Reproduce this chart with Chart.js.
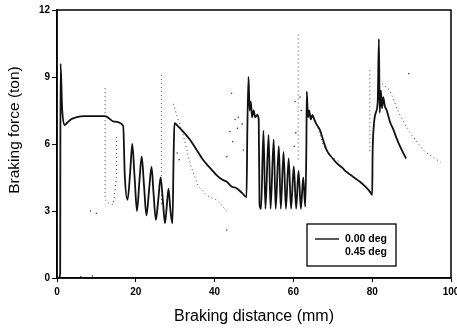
<!DOCTYPE html>
<html>
<head>
<meta charset="utf-8">
<script src="https://cdn.jsdelivr.net/npm/chart.js@4/dist/chart.umd.min.js"></script>
<style>
  body { margin: 0; background: #fff; }
  canvas { display: block; }
</style>
</head>
<body>
<canvas id="myChart" width="457" height="330"></canvas>
<script>
// Braking force vs braking distance
// 0.00 deg run (solid line), [distance mm, force ton]
const deg000 = [
  [0.5, 0], [0.8, 0.2], [0.9, 9.6], [1.3, 7.6], [1.9, 6.85], [2.6, 6.95], [3.5, 7.1],
  [5, 7.2], [7, 7.25], [10, 7.25], [12.2, 7.25], [14.5, 7.0], [16.8, 6.82],
  [17.2, 4.6], [17.9, 3.5], [18.6, 4.8], [19.1, 6.0], [19.7, 4.5], [20.3, 3.0],
  [20.9, 4.3], [21.5, 5.43], [22.1, 4.1], [22.7, 2.8], [23.4, 4.0], [24.0, 4.98],
  [24.5, 3.8], [25.1, 2.6], [25.7, 3.5], [26.3, 4.5], [26.9, 3.4], [27.4, 2.45],
  [27.9, 3.3], [28.3, 4.0], [28.8, 3.0], [29.3, 2.45], [29.6, 5.5], [29.8, 6.93],
  [30.8, 6.78], [32.3, 6.5], [33.8, 6.18], [35.5, 5.72], [37.1, 5.28], [39, 4.9],
  [40.9, 4.54], [42, 4.4], [43.1, 4.31], [44.3, 4.1], [45.6, 4.02], [47, 3.8],
  [48.1, 3.62], [48.3, 6.5], [48.6, 9.0], [48.9, 7.5], [49.2, 7.9], [49.5, 7.2],
  [49.9, 7.5], [50.3, 7.2], [50.8, 7.3], [51.2, 7.1], [51.4, 3.3], [51.8, 3.1],
  [52.4, 6.6], [52.9, 3.1], [53.7, 6.4], [54.2, 3.1], [55.0, 6.2], [55.5, 3.1],
  [56.3, 5.9], [56.8, 3.1], [57.5, 5.65], [58.1, 3.1], [58.8, 5.35], [59.4, 3.1],
  [60.1, 5.0], [60.7, 3.1], [61.3, 4.8], [61.9, 3.1], [62.5, 4.5], [63.0, 3.2],
  [63.3, 6.0], [63.4, 8.34], [63.7, 7.2], [64.0, 7.5], [64.4, 7.1], [64.8, 7.3],
  [65.3, 7.1], [65.8, 6.9], [66.8, 6.6], [67.5, 6.2], [68.5, 5.7], [70, 5.35],
  [71, 5.14], [72.3, 4.95], [73.5, 4.75], [75, 4.55], [76.9, 4.31], [78.2, 4.1],
  [79.4, 3.87], [80.0, 3.72], [80.1, 5.5], [80.4, 6.8], [80.9, 7.4], [81.4, 7.9],
  [81.7, 10.7], [81.9, 7.4], [82.2, 8.4], [82.5, 7.6], [82.8, 8.1], [83.2, 7.7],
  [83.7, 7.5], [84.5, 7.0], [85.4, 6.63], [86.2, 6.25], [87.1, 5.88], [88.6, 5.35]
];

// 0.45 deg run (dotted), only the pieces that can be seen in the scan
const deg045a = [[12.2, 8.5], [12.2, 3.5], [13.5, 3.3], [14.3, 3.3], [15.1, 4.5], [15.1, 6.3]];
const deg045b = [[26.5, 9.1], [26.5, 3.2]];
const deg045c = [[29.5, 7.8], [32, 6.4], [34, 5.0], [35.9, 4.1], [38, 3.7], [40.5, 3.5], [43.1, 3.0]];
const deg045d = [[61.2, 10.9], [61.2, 5.3]];
const deg045e = [[65.9, 6.9], [67.5, 6.0], [69.3, 5.45], [71.8, 5.2]];
const deg045f = [[79.4, 9.3], [79.4, 5.6]];
const deg045g = [[82.5, 8.7], [84.5, 8.4], [86.6, 7.45], [88.8, 6.7], [91.3, 6.1],
                 [93.4, 5.66], [95.5, 5.4], [97.4, 5.18]];
// loose specks of the 0.45 deg run
const deg045specks = [
  [8.5, 3.0], [10, 2.9], [43.1, 2.15], [44.3, 8.27], [45.2, 7.1], [46, 7.2],
  [43.9, 6.56], [44.6, 6.1], [43.1, 5.43], [47.3, 5.73], [45.8, 6.7], [47.0, 6.9],
  [60.4, 7.9], [60.6, 6.5], [60.2, 5.9], [62.0, 7.5], [61.7, 8.1], [30.5, 5.6],
  [31, 5.3], [89.3, 9.15], [6.0, 0.05], [9.0, 0.1]
];

const xTicks = { min: 0, max: 100, step: 20 };
const yTicks = { min: 0, max: 12, step: 3 };
const xTitle = 'Braking distance (mm)';
const yTitle = 'Braking force (ton)';

function toPoints(arr) {
  return arr.map(p => ({ x: p[0], y: p[1] }));
}

// join dotted pieces with gaps in between
let dottedPieces = [deg045a, deg045b, deg045c, deg045d, deg045e, deg045f, deg045g];
let dotted = [];
dottedPieces.forEach((piece, i) => {
  if (i > 0) dotted.push({ x: piece[0][0] - 0.1, y: null });
  dotted = dotted.concat(toPoints(piece));
});

const fontFamily = 'Arial, "Liberation Sans", sans-serif';
const tickFont = { family: fontFamily, size: 10, weight: 'bold' };

// frame round the plot
const framePlugin = {
  id: 'frame',
  afterDatasetsDraw(chart) {
    const a = chart.chartArea;
    const c = chart.ctx;
    c.save();
    c.strokeStyle = '#000';
    c.lineWidth = 1.5;
    c.strokeRect(a.left, a.top, a.right - a.left, a.bottom - a.top);
    c.restore();
  }
};

// y title sits a bit above the middle in the original
const yTitlePlugin = {
  id: 'yTitle',
  afterDraw(chart) {
    const a = chart.chartArea;
    const c = chart.ctx;
    c.save();
    c.translate(15, (a.top + a.bottom) / 2 - 14);
    c.rotate(-Math.PI / 2);
    c.font = '15.5px ' + fontFamily;
    c.fillStyle = '#000';
    c.textAlign = 'center';
    c.textBaseline = 'middle';
    c.fillText(yTitle, 0, 0);
    c.restore();
  }
};

// boxed legend in the lower right
const legendPlugin = {
  id: 'boxLegend',
  afterDraw(chart) {
    const a = chart.chartArea;
    const c = chart.ctx;
    const w = 89, h = 42;
    const x0 = a.right - 55 - w;
    const y0 = a.bottom - 12 - h;
    c.save();
    c.fillStyle = '#fff';
    c.fillRect(x0, y0, w, h);
    c.strokeStyle = '#000';
    c.lineWidth = 1.3;
    c.strokeRect(x0, y0, w, h);
    c.font = 'bold 10.5px ' + fontFamily;
    c.fillStyle = '#000';
    c.textBaseline = 'middle';
    const ds = chart.data.datasets;
    [0, 1].forEach((k, i) => {
      const y = y0 + 15 + i * 13.5;
      if (k === 0) {
        c.beginPath();
        c.strokeStyle = ds[k].borderColor;
        c.lineWidth = 1.4;
        c.moveTo(x0 + 8, y);
        c.lineTo(x0 + 32, y);
        c.stroke();
      }
      c.fillText(ds[k].label, x0 + 38, y);
    });
    c.restore();
  }
};

const data = {
  datasets: [{
    label: '0.00 deg',
    data: toPoints(deg000),
    showLine: true,
    borderColor: '#111',
    borderWidth: 1.8,
    cubicInterpolationMode: 'monotone',
    pointRadius: 0
  },
  {
    label: '0.45 deg',
    data: dotted,
    showLine: true,
    spanGaps: false,
    borderColor: '#444',
    borderWidth: 1,
    borderDash: [1, 3],
    pointRadius: 0
  },
  {
    label: '',
    data: toPoints(deg045specks),
    showLine: false,
    pointRadius: 0.8,
    pointBorderWidth: 0,
    backgroundColor: '#444'
  }]
};

const config = {
  type: 'scatter',
  data: data,
  options: {
    responsive: false,
    animation: false,
    layout: { padding: { top: 10, right: 6, left: 0, bottom: 0 } },
    plugins: { legend: { display: false }, tooltip: { enabled: false } },
    scales: {
      x: {
        type: 'linear',
        min: xTicks.min,
        max: xTicks.max,
        ticks: { stepSize: xTicks.step, font: tickFont, color: '#000', padding: 4, maxRotation: 0 },
        grid: { drawOnChartArea: false, tickLength: 4, color: '#000', lineWidth: 1 },
        border: { display: true, color: '#000', width: 1.5 },
        title: {
          display: true,
          text: xTitle,
          color: '#000',
          font: { family: fontFamily, size: 16 },
          padding: { top: 2, bottom: 4 }
        },
        afterFit: s => { s.height = 52; s.paddingLeft = 0; s.paddingRight = 0; }
      },
      y: {
        min: yTicks.min,
        max: yTicks.max,
        ticks: { stepSize: yTicks.step, font: tickFont, color: '#000', padding: 2 },
        grid: { drawOnChartArea: false, tickLength: 5, color: '#000', lineWidth: 1 },
        border: { display: true, color: '#000', width: 1.5 },
        title: { display: false },
        afterFit: s => { s.width = 57; s.paddingTop = 0; s.paddingBottom = 0; }
      }
    }
  },
  plugins: [framePlugin, yTitlePlugin, legendPlugin]
};

const theChart = new Chart(document.getElementById('myChart').getContext('2d'), config);
</script>
</body>
</html>
